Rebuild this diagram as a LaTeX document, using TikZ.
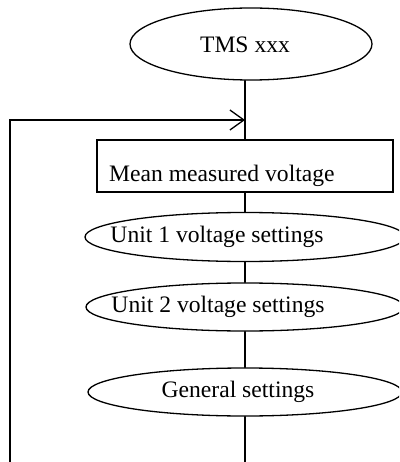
\documentclass[tikz,border=0pt]{standalone}
\usepackage{fontspec}
\setmainfont{Liberation Serif}
\usetikzlibrary{shapes.geometric,arrows.meta}
\tikzset{
  ln/.style={line width=1.3pt, line cap=round},
  ell/.style={ellipse, draw, line width=1.3pt, inner sep=0pt},
  boxnode/.style={rectangle, draw, line width=1.3pt, inner sep=0pt, minimum width=296pt, minimum height=52pt},
  lbl/.style={inner sep=0pt, font=\fontsize{23.6}{27}\selectfont},
}
\begin{document}
\begin{tikzpicture}[x=1pt,y=-1pt]
\useasboundingbox (0,0) rectangle (399,462);
\clip (0,0) rectangle (399,462);
\node[ell, minimum width=242pt, minimum height=72pt] (tms) at (251,44) {};
\node[lbl] (tmst) at (245,45) {TMS xxx};
\node[boxnode] (box) at (245,166) {};
\node[lbl, anchor=west] (boxt) at (109,176) {Mean measured voltage};
\node[ell, minimum width=320pt, minimum height=49pt] (u1) at (245,237) {};
\node[lbl] (u1t) at (217,237) {Unit 1 voltage settings};
\node[ell, minimum width=318pt, minimum height=48pt] (u2) at (245,307) {};
\node[lbl] (u2t) at (218,307) {Unit 2 voltage settings};
\node[ell, minimum width=314pt, minimum height=48pt] (gen) at (245,392) {};
\node[lbl] (gent) at (238,392) {General settings};
\coordinate (join) at (245,120);
\coordinate (loopbot) at (10,470);
\coordinate (bot) at (245,470);
\draw[ln] (box.north |- tms.south) -- (box.north);
\draw[ln, -{Straight Barb[length=14pt,width=20pt,line width=1.3pt]}] (loopbot) |- (join);
\draw[ln] (box.south) -- (u1.north);
\draw[ln] (u1.south) -- (u2.north);
\draw[ln] (u2.south) -- (gen.north);
\draw[ln] (gen.south) -- (bot);
\end{tikzpicture}
\end{document}
